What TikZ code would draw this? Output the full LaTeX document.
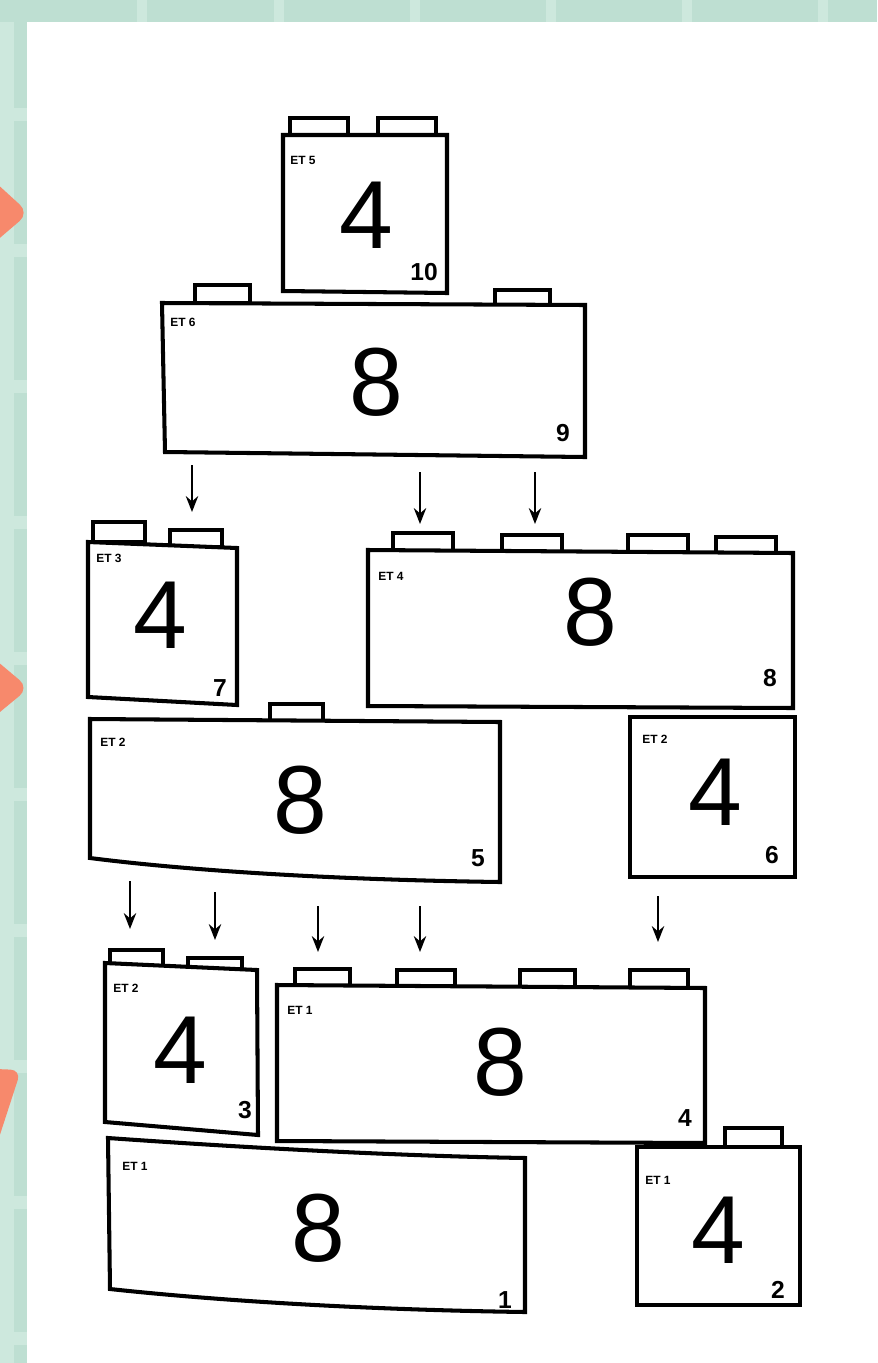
\documentclass[tikz,border=0pt]{standalone}
\usepackage{fontspec}
\setmainfont{Liberation Sans}
\usetikzlibrary{arrows.meta}

\definecolor{mint}{HTML}{BEDFD2}
\definecolor{mintlight}{HTML}{CDE8DD}
\definecolor{salmon}{HTML}{F7896C}

\begin{document}
\begin{tikzpicture}[
  x=0.02cm, y=-0.02cm,
  >=Stealth,
  body/.style={draw, line width=2.3pt, line join=miter, fill=white},
  stud/.style={draw, line width=1.9pt, line join=miter, fill=white},
  arr/.style={line width=1.4pt, -{Stealth[length=9pt, width=7pt]}},
  etlbl/.style={font=\fontsize{6.8}{7}\selectfont\bfseries, anchor=west, inner sep=0pt},
  bignum/.style={font=\fontsize{55}{55}\selectfont, inner sep=0pt},
  stepno/.style={font=\fontsize{14}{14}\selectfont\bfseries, inner sep=0pt}
]
\useasboundingbox (0,0) rectangle (877,1363);
\clip (0,0) rectangle (877,1363);

%--- Background: paper and mint frame ---
\fill[white] (0,0) rectangle (877,1363);
\fill[mint] (0,0) rectangle (877,22);
\fill[mint] (0,0) rectangle (27,1363);
\fill[mintlight] (0,22) rectangle (14,1363);
\foreach \yy in {108,244,380,516,652,788,924,1060,1196,1332}
  \fill[mintlight] (0,\yy) rectangle (27,\yy+13);
\foreach \xx in {137,274,410,546,682,818}
  \fill[mintlight] (\xx,0) rectangle (\xx+10,22);

% salmon tabs on the left edge
\fill[salmon, rounded corners=7pt] (-40,150) -- (29,213) -- (-40,272) -- cycle;
\fill[salmon, rounded corners=7pt] (-40,630) -- (29,688) -- (-40,745) -- cycle;
\fill[salmon, rounded corners=6pt] (-30,1068) -- (21,1070) -- (-5,1150) -- (-30,1150) -- cycle;

%--- Top: step 10 ---
\draw[stud] (290,118) rectangle (348,135);
\draw[stud] (378,118) rectangle (436,135);
\draw[body] (283,135) -- (447,135) -- (447,293) -- (283,291) -- cycle;
\node[etlbl] (et10) at (290,160) {ET 5};
\node[bignum] (n10) at (366,215) {4};
\node[stepno] (k10) at (424,272) {10};

%--- Step 9 ---
\draw[stud] (195,285) rectangle (250,303);
\draw[stud] (495,290) rectangle (550,305);
\draw[body] (162,303) -- (585,305) -- (585,457) -- (165,452) -- cycle;
\node[etlbl] (et9) at (170,322) {ET 6};
\node[bignum] (n9) at (376,382) {8};
\node[stepno] (k9) at (563,433) {9};

\coordinate (h1) at (192,512);
\coordinate (h2) at (420,524);
\coordinate (h3) at (535,524);
\draw[arr] (h1) ++(0,-47) -- (h1);
\draw[arr] (h2) ++(0,-52) -- (h2);
\draw[arr] (h3) ++(0,-52) -- (h3);

%--- Row: steps 7 and 8 ---
\draw[stud] (93,522) rectangle (145,542);
\draw[stud] (170,530) rectangle (222,547);
\draw[body] (88,542) -- (237,548) -- (237,705) -- (88,697) -- cycle;
\node[etlbl] (et7) at (96,558) {ET 3};
\node[bignum] (n7) at (160,615) {4};
\node[stepno] (k7) at (220,688) {7};

\draw[stud] (393,533) rectangle (453,551);
\draw[stud] (502,535) rectangle (562,552);
\draw[stud] (628,535) rectangle (688,552);
\draw[stud] (716,537) rectangle (776,553);
\draw[body] (368,550) -- (793,553) -- (793,708) -- (368,706) -- cycle;
\node[etlbl] (et8) at (378,576) {ET 4};
\node[bignum] (n8) at (590,612) {8};
\node[stepno] (k8) at (770,678) {8};

%--- Row: steps 5 and 6 ---
\draw[stud] (270,704) rectangle (323,721);
\draw[body] (90,719) -- (500,722) -- (500,882)
  .. controls (350,880) and (200,872) .. (90,858) -- cycle;
\node[etlbl] (et5) at (100,742) {ET 2};
\node[bignum] (n5) at (300,800) {8};
\node[stepno] (k5) at (478,858) {5};

\draw[body] (630,717) -- (795,717) -- (795,877) -- (630,877) -- cycle;
\node[etlbl] (et6) at (642,739) {ET 2};
\node[bignum] (n6) at (715,792) {4};
\node[stepno] (k6) at (772,855) {6};

\coordinate (h4) at (130,929);
\coordinate (h5) at (215,940);
\coordinate (h6) at (318,952);
\coordinate (h7) at (420,952);
\coordinate (h8) at (658,942);
\draw[arr] (h4) ++(0,-48) -- (h4);
\draw[arr] (h5) ++(0,-48) -- (h5);
\draw[arr] (h6) ++(0,-46) -- (h6);
\draw[arr] (h7) ++(0,-46) -- (h7);
\draw[arr] (h8) ++(0,-46) -- (h8);

%--- Row: steps 3 and 4 ---
\draw[stud] (110,950) rectangle (163,966);
\draw[stud] (188,958) rectangle (242,973);
\draw[body] (105,963) -- (257,970) -- (258,1135) -- (105,1122) -- cycle;
\node[etlbl] (et3) at (113,988) {ET 2};
\node[bignum] (n3) at (180,1050) {4};
\node[stepno] (k3) at (245,1110) {3};

\draw[stud] (295,969) rectangle (350,987);
\draw[stud] (397,970) rectangle (455,988);
\draw[stud] (520,970) rectangle (575,988);
\draw[stud] (630,970) rectangle (688,988);
\draw[body] (277,985) -- (705,988) -- (705,1143) -- (277,1141) -- cycle;
\node[etlbl] (et4) at (287,1010) {ET 1};
\node[bignum] (n4) at (500,1062) {8};
\node[stepno] (k4) at (685,1118) {4};

%--- Bottom: steps 1 and 2 ---
\draw[body] (108,1138) .. controls (250,1148) and (400,1156) .. (525,1158)
  -- (525,1312) .. controls (380,1310) and (230,1302) .. (110,1289) -- cycle;
\node[etlbl] (et1) at (122,1166) {ET 1};
\node[bignum] (n1) at (318,1228) {8};
\node[stepno] (k1) at (505,1300) {1};

\draw[stud] (725,1128) rectangle (782,1147);
\draw[body] (637,1147) -- (800,1147) -- (800,1305) -- (637,1305) -- cycle;
\node[etlbl] (et2) at (645,1180) {ET 1};
\node[bignum] (n2) at (718,1230) {4};
\node[stepno] (k2) at (778,1290) {2};

\end{tikzpicture}
\end{document}
